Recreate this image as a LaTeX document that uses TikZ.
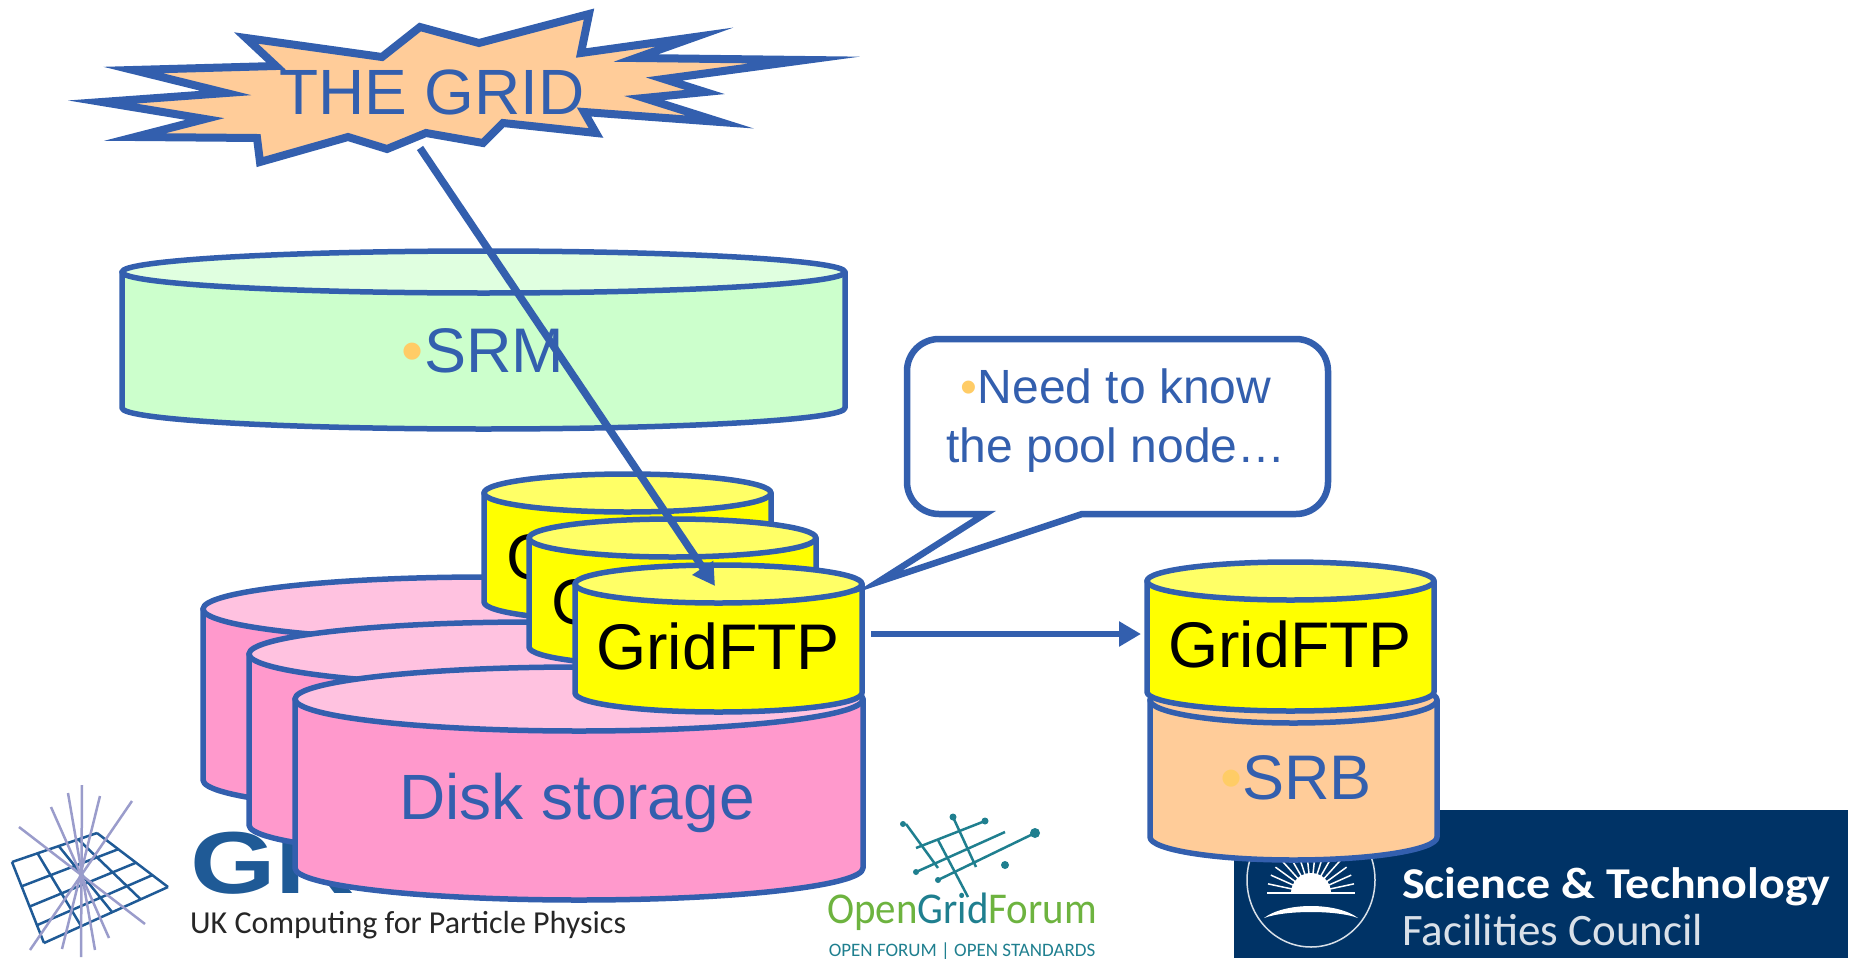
\documentclass[tikz,border=0pt]{standalone}
\usepackage{fontspec}
\setmainfont{Liberation Sans}
\newfontfamily\logofont{Carlito}
\usetikzlibrary{calc,arrows.meta}
\definecolor{lineblue}{HTML}{335FAE}
\definecolor{dotorange}{HTML}{FFCC66}
\definecolor{logoblue}{HTML}{1F5A96}
\definecolor{rayblue}{HTML}{9A9CCB}
\definecolor{ogfteal}{HTML}{1F7F8F}
\definecolor{ogfgreen}{HTML}{6DB33F}
\definecolor{stfcblue}{HTML}{003366}
\definecolor{peach}{HTML}{FFCC99}
\definecolor{diskpink}{HTML}{FF99CC}
\definecolor{disktop}{HTML}{FFC2E0}
\definecolor{srmgreen}{HTML}{CCFFCC}
\definecolor{srmtop}{HTML}{E0FFE0}
\definecolor{ftpyellow}{HTML}{FFFF00}
\definecolor{ftptop}{HTML}{FFFF66}
% drum: left x, top y, width, body height, ellipse height, side colour, top colour
\newcommand{\drum}[7]{%
    \pgfmathsetmacro{\rx}{#3/2}
    \draw[drumline, fill=#6] (#1,#2) -- ++(0,#4) arc[start angle=180, end angle=360, x radius=\rx, y radius=-#5] -- ++(0,-#4) -- cycle;
    \draw[drumline, fill=#7] (#1+\rx,#2) ellipse (\rx pt and #5 pt);
}
\begin{document}
\begin{tikzpicture}[x=1pt, y=-1pt,
    drumline/.style={line width=5.5pt, draw=lineblue, line join=round},
    bluetext/.style={text=lineblue, inner sep=0pt},
    bigfont/.style={font=\fontsize{63}{70}\selectfont},
    ftptext/.style={inner sep=0pt, text=black, font=\fontsize{64.5}{70}\selectfont},
    flowarrow/.style={line width=7.5pt, draw=lineblue, -{Triangle[length=22pt, width=24pt]}},
    ogfline/.style={line width=2.5pt, draw=ogfteal},
    ogfdot/.style={fill=ogfteal}]
    \useasboundingbox (0,0) rectangle (1854,958);

    % GridPP logo: sheet and rays
    \coordinate (sheetA) at (12,862);
    \coordinate (sheetB) at (97,833);
    \coordinate (sheetC) at (168,887);
    \coordinate (sheetD) at (44,943);
    \foreach \t in {0,0.3,0.55,0.78,1} {
        \draw[line width=2.5pt, logoblue] ($(sheetA)!\t!(sheetB)$) -- ($(sheetD)!\t!(sheetC)$);
        \draw[line width=2.5pt, logoblue] ($(sheetA)!\t!(sheetD)$) -- ($(sheetB)!\t!(sheetC)$);
    }
    \foreach \xa/\ya/\xb/\yb in {82/785/81/957, 68/793/95/950, 100/796/62/949, 51/807/109/938, 132/801/30/950, 19/827/145/924} {
        \draw[line width=2.5pt, rayblue] (\xa,\ya) -- (\xb,\yb);
    }
    \node[anchor=base west, inner sep=0pt, text=logoblue, xscale=1.25, font=\fontsize{88}{90}\selectfont\bfseries] (gppname) at (190,893) {GR};
    \node[anchor=west, inner sep=0pt, text=black!85, font=\logofont\fontsize{32}{34}\selectfont] (gpptag) at (190,925) {UK Computing for Particle Physics};

    % Open Grid Forum logo
    \foreach \xa/\ya/\xb/\yb in {906/824/938/868, 953/817/976/867, 938/840/968/897, 985/821/916/848, 1005/832/916/872, 1035/833/938/880} {
        \draw[ogfline] (\xa,\ya) -- (\xb,\yb);
    }
    \foreach \xa/\ya/\r in {903/824/3, 953/817/3.5, 985/821/3.5, 1035/833/5, 1005/865/4, 916/872/3, 938/880/3} {
        \fill[ogfdot] (\xa,\ya) circle (\r pt);
    }
    \node[anchor=base, inner sep=0pt, xscale=0.93, font=\logofont\fontsize{44}{46}\selectfont] (ogfname) at (962,923) {\textcolor{ogfgreen}{Open}\textcolor{ogfteal}{Grid}\textcolor{ogfgreen}{Forum}};
    \node[inner sep=0pt, text=ogfteal, font=\logofont\fontsize{19}{21}\selectfont] (ogftag) at (962,951) {OPEN FORUM | OPEN STANDARDS};

    % STFC logo
    \fill[stfcblue] (1234,810) rectangle (1848,958);
    \draw[line width=1.5pt, white!85!stfcblue] (1311,880) ellipse (64pt and 67pt);
    \foreach \a in {0,12,...,180} {
        \draw[line width=1.5pt, white] (1311,893) -- ++({44*cos(\a)},{-44*sin(\a)});
    }
    \fill[white] (1291,893) arc[start angle=180, end angle=0, x radius=20, y radius=-20] -- cycle;
    \fill[white] (1264,918) .. controls (1285,902) and (1337,902) .. (1358,918) .. controls (1337,910) and (1285,910) .. (1264,918) -- cycle;
    \node[anchor=west, inner sep=0pt, text=white, xscale=1.09, font=\logofont\bfseries\fontsize{44}{46}\selectfont] (stfcname) at (1402,887) {Science \& Technology};
    \node[anchor=west, inner sep=0pt, text=white!85!stfcblue, font=\logofont\fontsize{45}{47}\selectfont] (stfccouncil) at (1402,930) {Facilities Council};

    % Burst
    \draw[line width=8pt, draw=lineblue, fill=peach, line join=miter, miter limit=20]
        (102,102) -- (226,93) -- (133,70) -- (276,66) -- (246,38) -- (382,57) -- (420,27) -- (479,43)
        -- (589,14) -- (581,53) -- (695,37) -- (636,58) -- (805,60) -- (664,79) -- (705,92) -- (644,98)
        -- (720,122) -- (584,112) -- (596,133) -- (503,123) -- (483,143) -- (426,133) -- (387,149)
        -- (348,137) -- (260,162) -- (257,138) -- (135,137) -- (205,119) -- cycle;
    \node[bluetext, font=\fontsize{64}{70}\selectfont] (grid) at (432,92) {THE GRID};

    % SRM
    \drum{122}{272}{723}{136}{21}{srmgreen}{srmtop}
    \node[bluetext, bigfont] (srm) at (483,351) {\textcolor{dotorange}{•}SRM};

    % Disk storage
    \drum{203}{609}{568}{171}{32}{diskpink}{disktop}
    \drum{249}{654}{568}{171}{32}{diskpink}{disktop}
    \drum{295}{699}{568}{169}{32}{diskpink}{disktop}
    \node[bluetext, font=\fontsize{64}{70}\selectfont] (disk) at (577,803) {Disk storage};

    % GridFTP stack
    \drum{484}{493}{287}{109}{19}{ftpyellow}{ftptop}
    \node[ftptext] (ftpback) at (628,556) {GridFTP};
    \drum{529}{538}{287}{109}{19}{ftpyellow}{ftptop}
    \node[ftptext] (ftpmid) at (673,601) {GridFTP};
    \drum{575}{584}{287}{109}{19}{ftpyellow}{ftptop}
    \node[ftptext] (ftpfront) at (718,646) {GridFTP};

    % SRB with its GridFTP
    \drum{1150}{700}{287}{137}{23}{peach}{peach}
    \node[bluetext, bigfont] (srb) at (1296,778) {\textcolor{dotorange}{•}SRB};
    \drum{1147}{581}{287}{111}{19}{ftpyellow}{ftptop}
    \node[ftptext] (ftpsrb) at (1290,644) {GridFTP};

    % Callout
    \draw[line width=6.5pt, draw=lineblue, fill=white, line join=miter, miter limit=20]
        (939,339) -- (1296,339) arc[start angle=90, end angle=0, x radius=32, y radius=-32] -- (1328,482)
        arc[start angle=0, end angle=-90, x radius=32, y radius=-32] -- (1082,514) -- (878,582) -- (985,514) -- (939,514)
        arc[start angle=-90, end angle=-180, x radius=32, y radius=-32] -- (907,371) arc[start angle=180, end angle=90, x radius=32, y radius=-32] -- cycle;
    \node[bluetext, font=\fontsize{48}{59}\selectfont, align=center] (needtext) at (1116,421) {\textcolor{dotorange}{•}Need to know\\the pool node…};

    % Arrows
    \coordinate (gridfoot) at (420,148);
    \coordinate (ftpin) at (715,586);
    \coordinate (ftpout) at (871,634);
    \coordinate (srbin) at (1141,634);
    \draw[flowarrow] (gridfoot) -- (ftpin);
    \draw[flowarrow, line width=6pt] (ftpout) -- (srbin);
\end{tikzpicture}
\end{document}
